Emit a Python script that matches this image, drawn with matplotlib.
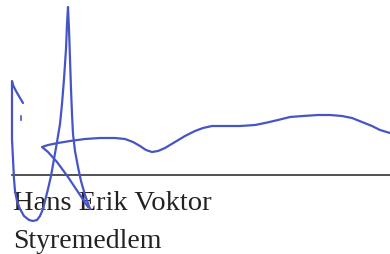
import matplotlib
matplotlib.use('Agg')
import matplotlib.pyplot as plt

# signature strokes, pixel coords (y down)
left_x = [23, 20, 16, 13, 12, 12, 12, 12, 13, 14, 15, 17, 20, 24, 29, 33, 37, 40, 43, 45, 48, 51,
          54, 57, 60, 62, 64, 66, 67, 68, 69, 70, 71, 72, 73, 75, 78, 81, 85, 90]
left_y = [104, 99, 92, 86, 82, 100, 120, 140, 160, 180, 192, 202, 210, 217, 221, 222, 221, 217, 210, 202, 190, 177,
          160, 143, 125, 105, 80, 50, 25, 8, 30, 60, 90, 115, 135, 152, 168, 182, 196, 210]

cross_x = [88, 78, 68, 57, 48, 42, 48, 58, 70, 85, 100, 115, 125, 133, 140, 146, 152, 158, 165, 175,
           185, 195, 203, 212, 225, 240, 255, 265, 278, 290, 303, 318, 330, 342, 352, 362, 372, 380, 390]
cross_y = [208, 193, 178, 163, 153, 148, 146, 144, 142, 140, 139, 139, 140, 143, 147, 151, 153, 152, 149, 143,
           137, 132, 129, 127, 127, 127, 126, 124, 121, 118, 117, 116, 116, 117, 119, 123, 127, 131, 134]

dot_x = [21, 21]
dot_y = [117, 121]

rule_x = [12, 390]
rule_y = [176, 176]

name = 'Hans Erik Voktor'
title = 'Styremedlem'

fig = plt.figure(figsize=(3.9, 2.55), dpi=100)
ax = fig.add_axes([0, 0, 1, 1])
ax.set_xlim(0, 390)
ax.set_ylim(255, 0)
ax.axis('off')

ax.plot(rule_x, rule_y, color='#333333', lw=1.2, zorder=1)
ax.text(13, 210, name, fontsize=20.5, family='Liberation Serif', color='#222222', va='baseline', zorder=2)
ax.text(13, 248, title, fontsize=20, family='Liberation Serif', color='#222222', va='baseline', zorder=2)

sig = '#4655c6'
ax.plot(left_x, left_y, color=sig, lw=1.6, solid_joinstyle='round', solid_capstyle='round', zorder=3)
ax.plot(cross_x, cross_y, color=sig, lw=1.6, solid_joinstyle='round', solid_capstyle='round', zorder=3)
ax.plot(dot_x, dot_y, color=sig, lw=1.2, zorder=3)

fig.savefig('out.png', dpi=100)
